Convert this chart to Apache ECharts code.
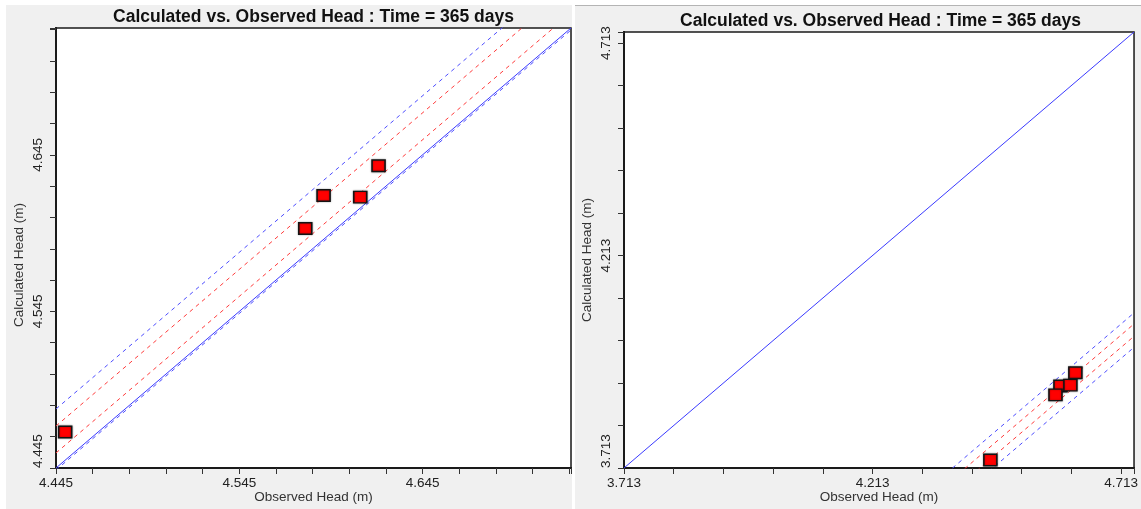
<!DOCTYPE html>
<html>
<head>
<meta charset="utf-8">
<script src="https://cdn.jsdelivr.net/npm/echarts@6/dist/echarts.min.js"></script>
<style>html,body{margin:0;padding:0;background:#fff}#c{width:1141px;height:509px}</style>
</head>
<body>
<div id="c"></div>
<script>
// ---- data ----
const titleText = 'Calculated vs. Observed Head : Time = 365 days';
const xName = 'Observed Head (m)';
const yName = 'Calculated Head (m)';
const observed = [4.591, 4.611, 4.621, 4.581, 4.450];
const calculatedLeft = [4.619, 4.618, 4.638, 4.598, 4.468];
const calculatedRight = [3.906, 3.908, 3.937, 3.885, 3.732];
const leftRange = [4.445, 4.726];
const rightRange = [3.713, 4.739];
const leftTickStep = 0.02;   // minor tick spacing, left panel
const rightTickStep = 0.1;   // minor tick spacing, right panel
const leftTickLabels = [4.445, 4.545, 4.645];
const rightTickLabels = [3.713, 4.213, 4.713];
// interval lines: offset (calculated - observed) from the 1:1 line
const leftBlueOffsets = [0.0377, -0.0013];
const leftRedOffsets = [0.0268, 0.0096];
const rightBlueOffsets = [-0.661, -0.742];
const rightRedOffsets = [-0.687, -0.716];

// ---- build ----
const chart = echarts.init(document.getElementById('c'), null, {renderer: 'canvas'});
const FONT = '"Liberation Sans", Arial, sans-serif';

function pts(xs, ys) { return xs.map((x, i) => [x, ys[i]]); }
function offsetLine(range, off) { return [[range[0], range[0] + off], [range[1], range[1] + off]]; }

function makeAxis(gi, range, labels, isY, namePad) {
  return {
    type: 'value', gridIndex: gi, min: range[0], max: range[1],
    position: isY ? 'left' : 'bottom',
    splitLine: {show: false},
    axisLine: {show: true, onZero: false, lineStyle: {color: '#1a1a1a', width: 2}},
    axisTick: {show: false},
    axisLabel: {
      show: true, customValues: labels, formatter: v => Number(v).toFixed(3),
      margin: isY ? 11 : 8, rotate: isY ? 90 : 0,
      alignMinLabel: isY ? 'left' : 'center',
      color: '#222', fontSize: 13.5, fontFamily: FONT
    },
    name: isY ? yName : xName, nameLocation: 'middle', nameGap: isY ? 30 : 22,
    nameRotate: isY ? 90 : 0, nameMoveOverlap: false,
    nameTextStyle: Object.assign({color: '#333', fontSize: 13.5, fontFamily: FONT},
      isY ? {padding: [0, namePad, 0, 0]} : {})
  };
}
// tick-only axis sharing the same pixel span, counted from 0 so ticks sit at range[0] + k*step
function tickAxis(gi, range, step, isY) {
  return {
    type: 'value', gridIndex: gi, min: 0, max: range[1] - range[0], interval: step,
    position: isY ? 'left' : 'bottom', offset: 0,
    splitLine: {show: false}, axisLine: {show: true, onZero: false, lineStyle: {color: '#1a1a1a', width: 2}},
    axisLabel: {show: false},
    axisTick: {show: true, inside: false, length: 6, lineStyle: {color: '#333', width: 1}}
  };
}

function lineSeries(gi, data, color, solid) {
  return {
    type: 'line', xAxisIndex: gi, yAxisIndex: gi, data: data, symbol: 'none', silent: true,
    clip: true, z: 2,
    lineStyle: {color: color, width: 1, type: solid ? 'solid' : [4, 4]}
  };
}

const series = [];
[[0, leftRange, leftBlueOffsets, leftRedOffsets, calculatedLeft],
 [1, rightRange, rightBlueOffsets, rightRedOffsets, calculatedRight]].forEach(([gi, range, blue, red, calc]) => {
  series.push(lineSeries(gi, offsetLine(range, 0), '#3a3aff', true));
  blue.forEach(o => series.push(lineSeries(gi, offsetLine(range, o), '#4d4dff', false)));
  red.forEach(o => series.push(lineSeries(gi, offsetLine(range, o), '#ff3c3c', false)));
  series.push({
    type: 'scatter', xAxisIndex: gi, yAxisIndex: gi, data: pts(observed, calc),
    symbol: 'rect', symbolSize: [13, 11.5], z: 5, silent: true,
    itemStyle: {color: '#ff0000', borderColor: '#141414', borderWidth: 1.5, opacity: 1,
      shadowBlur: 2, shadowColor: 'rgba(0,0,0,0.35)'}
  });
  // empty anchor so the tick-only axes are not treated as blank
  series.push({
    type: 'scatter', xAxisIndex: gi + 2, yAxisIndex: gi + 2, data: [[0, 0]],
    symbolSize: 0, silent: true, itemStyle: {opacity: 0}
  });
});

chart.setOption({
  animation: false,
  backgroundColor: '#ffffff',
  graphic: [
    {type: 'rect', z: -100, silent: true, shape: {x: 6, y: 5, width: 566, height: 504}, style: {fill: '#f0f0f0'}},
    {type: 'rect', z: -100, silent: true, shape: {x: 575, y: 5, width: 566, height: 504}, style: {fill: '#f0f0f0'}},
    {type: 'line', z: -99, silent: true, shape: {x1: 575, y1: 5.5, x2: 1141, y2: 5.5}, style: {stroke: '#b4b4b4', lineWidth: 1}},
    {type: 'text', x: 313.5, y: 17.5, silent: true, style: {text: titleText, fill: '#111', font: 'bold 17.5px ' + FONT, align: 'center', verticalAlign: 'middle'}},
    {type: 'text', x: 880.5, y: 21.5, silent: true, style: {text: titleText, fill: '#111', font: 'bold 17.5px ' + FONT, align: 'center', verticalAlign: 'middle'}}
  ],
  grid: [
    {left: 56, top: 28, width: 515, height: 441, show: true, backgroundColor: '#ffffff', borderColor: '#1a1a1a', borderWidth: 1.5},
    {left: 624, top: 32, width: 513, height: 437, show: true, backgroundColor: '#ffffff', borderColor: '#1a1a1a', borderWidth: 1.5}
  ],
  xAxis: [makeAxis(0, leftRange, leftTickLabels, false, 0), makeAxis(1, rightRange, rightTickLabels, false, 0),
          tickAxis(0, leftRange, leftTickStep, false), tickAxis(1, rightRange, rightTickStep, false)],
  yAxis: [makeAxis(0, leftRange, leftTickLabels, true, 34), makeAxis(1, rightRange, rightTickLabels, true, 20),
          tickAxis(0, leftRange, leftTickStep, true), tickAxis(1, rightRange, rightTickStep, true)],
  series: series
});
</script>
</body>
</html>
